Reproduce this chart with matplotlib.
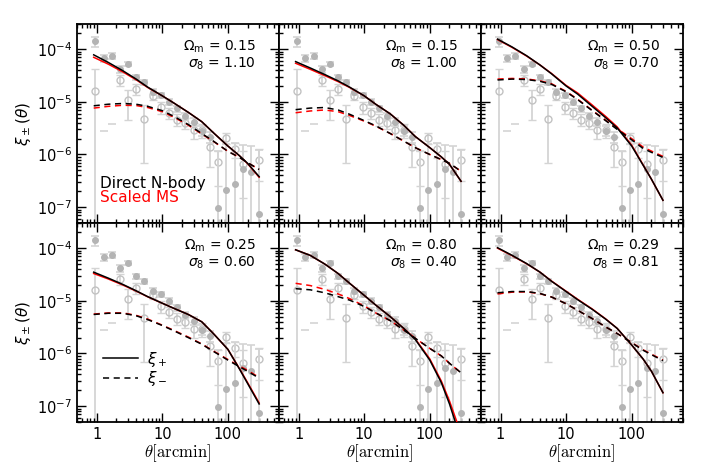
import matplotlib.pyplot as plt
import numpy as np
from matplotlib.ticker import FixedLocator, FixedFormatter, LogLocator, NullFormatter

# measured points (same in every panel)
theta_data = [0.95, 1.27, 1.69, 2.25, 3.0, 4.0, 5.3, 7.1, 9.5, 12.7, 16.9,
              22.5, 30, 40, 53, 71, 95, 127, 169, 225, 300]
xip_data = [1.42e-4, 6.7e-5, 7.4e-5, 4.2e-5, 5.3e-5, 2.94e-5, 2.37e-5, 1.57e-5,
            1.32e-5, 1.0e-5, 7.5e-6, 5.3e-6, 4.2e-6, 2.8e-6, 2.14e-6, 9.5e-8,
            2.14e-7, 2.7e-7, 5.2e-7, 4.7e-7, 7.4e-8]
xip_err = [3e-5, 1.1e-5, 1.0e-5, 6e-6, 5e-6, 3.5e-6, 2.5e-6, 2e-6, 1.5e-6, 1.2e-6,
           1e-6, 8e-7, 7e-7, 6e-7, 5e-7, 1.05e-6, 1.4e-6, 1.35e-6, 1.0e-6, 1.0e-6,
           1.15e-6]
xim_data = [1.64e-5, np.nan, np.nan, 2.6e-5, 1.06e-5, 1.75e-5, 4.7e-6, 1.3e-5,
            7.9e-6, 6.2e-6, 4.6e-6, 4.0e-6, 2.95e-6, 2.95e-6, 1.37e-6, 7.1e-7,
            2.1e-6, 1.25e-6, 6.5e-7, np.nan, 7.9e-7]
xim_err = [2.5e-5, 0, 0, 6e-6, 6e-6, 4e-6, 4e-6, 2e-6, 2e-6, 1.5e-6, 1.2e-6, 1e-6,
           1e-6, 9e-7, 8e-7, 4.6e-7, 5e-7, 4e-7, 5e-7, 0, 4.7e-7]
# negative xi- bins: only the upper cap shows
theta_neg = [1.27, 1.69]
xim_neg_cap = [2.85e-6, 3.8e-6]

# model curves
theta_model = [0.9, 1.5, 2.5, 4, 6, 10, 15, 25, 40, 60, 100, 150, 200, 300]

omega_m = [0.15, 0.15, 0.50, 0.25, 0.80, 0.29]
sigma_8 = [1.10, 1.00, 0.70, 0.60, 0.40, 0.81]

xip_nbody = [
    [7.8e-5, 5.6e-5, 3.9e-5, 2.7e-5, 1.9e-5, 1.3e-5, 9.5e-6, 6.3e-6, 4.2e-6, 2.6e-6, 1.45e-6, 9.5e-7, 6.8e-7, 3.8e-7],
    [5.8e-5, 4.4e-5, 3.3e-5, 2.5e-5, 1.9e-5, 1.3e-5, 9e-6, 5.9e-6, 3.6e-6, 2.2e-6, 1.35e-6, 9e-7, 6.5e-7, 3.1e-7],
    [1.55e-4, 1.1e-4, 7.5e-5, 5.0e-5, 3.4e-5, 2.0e-5, 1.4e-5, 8.2e-6, 5.0e-6, 3.2e-6, 1.45e-6, 6.2e-7, 3.4e-7, 1.35e-7],
    [3.5e-5, 2.7e-5, 2.05e-5, 1.55e-5, 1.2e-5, 9.0e-6, 7.2e-6, 5.5e-6, 4.0e-6, 2.4e-6, 1.2e-6, 5.1e-7, 2.7e-7, 1.1e-7],
    [9.3e-5, 7.3e-5, 5.0e-5, 3.3e-5, 2.15e-5, 1.27e-5, 8.3e-6, 5.0e-6, 3.0e-6, 1.85e-6, 7.5e-7, 2.8e-7, 1.1e-7, 2.3e-8],
    [1.02e-4, 7.3e-5, 5.1e-5, 3.5e-5, 2.35e-5, 1.5e-5, 1.05e-5, 6.9e-6, 4.5e-6, 3.0e-6, 1.45e-6, 7.8e-7, 4.6e-7, 1.8e-7],
]
xip_ms = [
    [7.0e-5, 5.2e-5, 3.7e-5, 2.62e-5, 1.87e-5, 1.3e-5, 9.5e-6, 6.3e-6, 4.2e-6, 2.6e-6, 1.45e-6, 9.5e-7, 6.7e-7, 3.7e-7],
    [5.4e-5, 4.15e-5, 3.15e-5, 2.42e-5, 1.87e-5, 1.3e-5, 9e-6, 5.9e-6, 3.6e-6, 2.2e-6, 1.35e-6, 9e-7, 6.5e-7, 3.1e-7],
    [1.52e-4, 1.08e-4, 7.4e-5, 5.0e-5, 3.45e-5, 2.05e-5, 1.47e-5, 8.7e-6, 5.3e-6, 3.35e-6, 1.5e-6, 6.3e-7, 3.4e-7, 1.35e-7],
    [3.3e-5, 2.6e-5, 2.0e-5, 1.53e-5, 1.19e-5, 9.0e-6, 7.2e-6, 5.5e-6, 4.0e-6, 2.4e-6, 1.2e-6, 5.2e-7, 2.8e-7, 1.15e-7],
    [9.3e-5, 7.3e-5, 5.0e-5, 3.3e-5, 2.15e-5, 1.27e-5, 8.3e-6, 5.0e-6, 3.0e-6, 1.9e-6, 7.9e-7, 3.0e-7, 1.25e-7, 3.0e-8],
    [1.0e-4, 7.2e-5, 5.05e-5, 3.5e-5, 2.37e-5, 1.52e-5, 1.07e-5, 7.0e-6, 4.55e-6, 3.0e-6, 1.45e-6, 7.8e-7, 4.6e-7, 1.8e-7],
]
xim_nbody = [
    [8.4e-6, 9.0e-6, 9.3e-6, 9.0e-6, 8.2e-6, 6.8e-6, 5.3e-6, 3.7e-6, 2.5e-6, 1.8e-6, 1.15e-6, 8.8e-7, 7e-7, 5.2e-7],
    [7.1e-6, 7.6e-6, 7.8e-6, 7.0e-6, 5.8e-6, 4.4e-6, 3.5e-6, 2.5e-6, 1.8e-6, 1.35e-6, 1.0e-6, 8e-7, 6.8e-7, 4.8e-7],
    [2.6e-5, 2.7e-5, 2.65e-5, 2.45e-5, 2.15e-5, 1.55e-5, 1.1e-5, 6.8e-6, 4.4e-6, 3.0e-6, 1.9e-6, 1.3e-6, 1.1e-6, 8.8e-7],
    [5.5e-6, 5.8e-6, 5.8e-6, 5.2e-6, 4.4e-6, 3.4e-6, 2.7e-6, 2.0e-6, 1.5e-6, 1.1e-6, 7.5e-7, 5.6e-7, 4.6e-7, 3.4e-7],
    [1.7e-5, 1.62e-5, 1.42e-5, 1.2e-5, 1.03e-5, 7.8e-6, 5.9e-6, 4.2e-6, 2.8e-6, 1.95e-6, 1.25e-6, 9e-7, 6.5e-7, 4.3e-7],
    [1.42e-5, 1.5e-5, 1.5e-5, 1.38e-5, 1.18e-5, 8.8e-6, 6.6e-6, 4.6e-6, 3.2e-6, 2.4e-6, 1.6e-6, 1.15e-6, 9.5e-7, 7.3e-7],
]
xim_ms = [
    [7.6e-6, 8.2e-6, 8.6e-6, 8.5e-6, 7.8e-6, 6.5e-6, 5.1e-6, 3.6e-6, 2.45e-6, 1.78e-6, 1.15e-6, 8.8e-7, 7e-7, 5.2e-7],
    [6.2e-6, 6.7e-6, 7.0e-6, 6.5e-6, 5.5e-6, 4.3e-6, 3.45e-6, 2.5e-6, 1.8e-6, 1.35e-6, 1.0e-6, 8e-7, 6.8e-7, 4.8e-7],
    [2.7e-5, 2.78e-5, 2.72e-5, 2.5e-5, 2.2e-5, 1.58e-5, 1.12e-5, 6.9e-6, 4.5e-6, 3.1e-6, 2.0e-6, 1.38e-6, 1.16e-6, 9.2e-7],
    [5.6e-6, 5.9e-6, 5.9e-6, 5.3e-6, 4.5e-6, 3.45e-6, 2.75e-6, 2.05e-6, 1.52e-6, 1.12e-6, 7.7e-7, 5.8e-7, 4.8e-7, 3.5e-7],
    [2.15e-5, 1.95e-5, 1.65e-5, 1.35e-5, 1.1e-5, 8.0e-6, 5.9e-6, 4.2e-6, 2.8e-6, 1.95e-6, 1.25e-6, 9e-7, 6.5e-7, 4.3e-7],
    [1.35e-5, 1.46e-5, 1.48e-5, 1.37e-5, 1.18e-5, 8.8e-6, 6.6e-6, 4.6e-6, 3.2e-6, 2.4e-6, 1.62e-6, 1.17e-6, 9.7e-7, 7.5e-7],
]

plt.rcParams['font.family'] = ['DejaVu Sans']
plt.rcParams['font.size'] = 10

fig, axes = plt.subplots(2, 3, figsize=(7.06, 4.71), dpi=100, sharex=True, sharey=True)
fig.subplots_adjust(left=0.109, right=0.967, top=0.949, bottom=0.104, wspace=0, hspace=0)

grey_pt = '#b4b4b4'
grey_open = '#c2c2c2'
grey_bar = '#d4d4d4'

for i, ax in enumerate(axes.flat):
    ax.set_xscale('log')
    ax.set_yscale('log')

    ax.errorbar(theta_data, xim_data, yerr=xim_err, fmt='o', mfc='none', mec=grey_open,
                ms=5, mew=1.0, ecolor=grey_bar, elinewidth=1.3, capsize=3, capthick=1.2, zorder=1)
    ax.errorbar(theta_data, xip_data, yerr=xip_err, fmt='o', mfc=grey_pt, mec=grey_pt,
                ms=4, ecolor=grey_bar, elinewidth=1.3, capsize=3, capthick=1.2, zorder=2)
    ax.plot(theta_neg, xim_neg_cap, ls='none', marker='_', ms=6, mew=1.2, color=grey_bar, zorder=1)

    ax.plot(theta_model, xip_ms[i], color='red', lw=1.1, zorder=3)
    ax.plot(theta_model, xim_ms[i], color='red', lw=1.1, dashes=(4, 3), zorder=3)
    ax.plot(theta_model, xip_nbody[i], color='black', lw=1.1, zorder=4)
    ax.plot(theta_model, xim_nbody[i], color='black', lw=1.1, dashes=(4, 3), zorder=4)

    ax.text(0.885, 0.885, r'$\Omega_{\rm m}$ = %.2f' % omega_m[i], transform=ax.transAxes,
            ha='right', va='center', fontsize=10)
    ax.text(0.885, 0.8, r'$\sigma_8$ = %.2f' % sigma_8[i], transform=ax.transAxes,
            ha='right', va='center', fontsize=10)

    ax.set_xlim(0.5, 600)
    ax.set_ylim(5e-8, 3e-4)
    ax.xaxis.set_major_locator(FixedLocator([1, 10, 100]))
    ax.xaxis.set_major_formatter(FixedFormatter(['1', '10', '100']))
    ax.xaxis.set_minor_locator(LogLocator(base=10, subs=np.arange(2, 10), numticks=20))
    ax.xaxis.set_minor_formatter(NullFormatter())
    ax.yaxis.set_major_locator(FixedLocator([1e-7, 1e-6, 1e-5, 1e-4]))
    ax.yaxis.set_minor_locator(LogLocator(base=10, subs=np.arange(2, 10), numticks=20))
    ax.yaxis.set_minor_formatter(NullFormatter())
    ax.tick_params(which='both', direction='in', top=True, right=True, width=1.0, labelsize=10.5)
    ax.tick_params(which='major', length=6.5)
    ax.tick_params(which='minor', length=3)
    for sp in ax.spines.values():
        sp.set_linewidth(1.3)

    row, col = divmod(i, 3)
    if col == 0:
        ax.set_ylabel(r'$\xi_\pm(\theta)$', fontsize=11)
        ax.yaxis.set_label_coords(-0.22, 0.5)
    else:
        ax.tick_params(labelleft=False)
    if row == 1:
        ax.set_xlabel(r'$\theta[\mathrm{arcmin}]$', fontsize=12, math_fontfamily='cm')
        ax.xaxis.set_label_coords(0.5, -0.1)
    else:
        ax.tick_params(labelbottom=False)

ax0 = axes[0, 0]
ax0.text(0.115, 0.2, 'Direct N-body', transform=ax0.transAxes, color='black',
         ha='left', va='center', fontsize=11)
ax0.text(0.115, 0.13, 'Scaled MS', transform=ax0.transAxes, color='red',
         ha='left', va='center', fontsize=11)

ax3 = axes[1, 0]
h1, = ax3.plot([], [], color='black', lw=1.1)
h2, = ax3.plot([], [], color='black', lw=1.1, dashes=(4, 3))
ax3.legend([h1, h2], [r'$\xi_+$', r'$\xi_-$'], loc='lower left', bbox_to_anchor=(0.06, 0.1),
           frameon=False, handlelength=2.3, handletextpad=0.6, labelspacing=0.05, fontsize=11)

fig.savefig('out.png', dpi=100)
